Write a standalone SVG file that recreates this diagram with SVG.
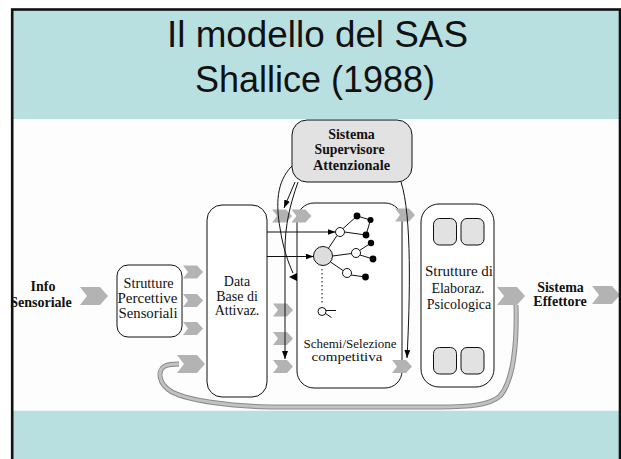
<svg xmlns="http://www.w3.org/2000/svg" width="621" height="459" viewBox="0 0 621 459">
<style>
.box{fill:#FFFFFF;stroke:#111;stroke-width:1}
.gbox{fill:#E2E2E2;stroke:#111;stroke-width:1}
.t{font-family:"Liberation Serif","Times New Roman",serif;font-size:14px;fill:#111;text-anchor:middle}
.s{font-size:13px}
.b{font-weight:bold}
.title{font-family:"Liberation Sans",Arial,sans-serif;font-size:36px;fill:#111;text-anchor:middle}
.chev{fill:#B3B3B3}
.ln{fill:none;stroke:#111;stroke-width:1}
.edge{stroke:#111;stroke-width:1;fill:none}
.oc{fill:#FFFFFF;stroke:#111;stroke-width:1}
.dot{fill:#000}
</style>
<defs>
<path id="cs" d="M0,0 H14 L20,6.5 L14,13 H0 L5,6.5 Z"/>
<path id="cb" d="M0,0 H20 L28,9 L20,18 H0 L7,9 Z"/>
<marker id="ah" markerWidth="8" markerHeight="6" refX="8" refY="3" orient="auto" markerUnits="userSpaceOnUse">
<path d="M0,0 L8,3 L0,6 Z" fill="#000"/>
</marker>
</defs>

<rect x="0" y="0" width="621" height="459" fill="#FFFFFF"/>
<rect x="12" y="9" width="608" height="110" fill="#B9E0E1"/>
<rect x="12" y="410.5" width="608" height="49" fill="#B9E0E1"/>
<rect x="12" y="119" width="608" height="291.5" fill="#FDFDFD"/>

<g id="title">
<text class="title" x="317.5" y="47" textLength="301" lengthAdjust="spacingAndGlyphs">Il modello del SAS</text>
<text class="title" x="315" y="92">Shallice (1988)</text>
</g>

<g id="info-sensoriale">
<text class="t b" x="43" y="290.5">Info</text>
<text class="t b" x="41" y="306.5">Sensoriale</text>
</g>

<g id="strutture-percettive">
<rect class="box" x="117" y="265" width="65" height="72" rx="11"/>
<text class="t" x="148.5" y="288" textLength="50" lengthAdjust="spacingAndGlyphs">Strutture</text>
<text class="t" x="147.5" y="303" textLength="60" lengthAdjust="spacingAndGlyphs">Percettive</text>
<text class="t" x="148" y="317.5" textLength="59" lengthAdjust="spacingAndGlyphs">Sensoriali</text>
</g>

<g id="database">
<rect class="box" x="207" y="205" width="60" height="192" rx="15"/>
<text class="t" x="237" y="286">Data</text>
<text class="t" x="237" y="300.5">Base di</text>
<text class="t" x="237" y="315">Attivaz.</text>
</g>

<g id="sas">
<rect class="gbox" x="292" y="120" width="120" height="62" rx="15"/>
<text class="t b" x="351.5" y="138.5">Sistema</text>
<text class="t b" x="349.5" y="154" textLength="70" lengthAdjust="spacingAndGlyphs">Supervisore</text>
<text class="t b" x="351.5" y="170" textLength="77" lengthAdjust="spacingAndGlyphs">Attenzionale</text>
</g>

<g id="schemi">
<rect class="box" x="297" y="203" width="105" height="185" rx="17"/>
<g id="network">
<line class="edge" x1="328" y1="249" x2="337" y2="235.5"/>
<line class="edge" x1="332.5" y1="256" x2="351.5" y2="253.5"/>
<line class="edge" x1="330.5" y1="262" x2="343" y2="270.5"/>
<line class="edge" x1="343" y1="228.5" x2="357" y2="216"/>
<line class="edge" x1="357" y1="216" x2="370.5" y2="220"/>
<line class="edge" x1="370.5" y1="220" x2="366" y2="235"/>
<line class="edge" x1="344.5" y1="232" x2="366" y2="235"/>
<line class="edge" x1="359.5" y1="250.5" x2="371" y2="243"/>
<line class="edge" x1="360" y1="255" x2="373" y2="259"/>
<line class="edge" x1="351" y1="275" x2="365.5" y2="277"/>
<circle cx="323" cy="256" r="9.5" fill="#DDDDDD" stroke="#111" stroke-width="1"/>
<circle class="oc" cx="340" cy="232" r="4.5"/>
<circle class="oc" cx="356" cy="253" r="4.5"/>
<circle class="oc" cx="347" cy="273" r="4.5"/>
<circle class="dot" cx="357" cy="216" r="3.4"/>
<circle class="dot" cx="370.5" cy="220" r="3"/>
<circle class="dot" cx="366" cy="235" r="3.4"/>
<circle class="dot" cx="371" cy="243" r="3.2"/>
<circle class="dot" cx="373" cy="259" r="3.4"/>
<circle class="dot" cx="365.5" cy="277" r="3.4"/>
<line x1="322" y1="269" x2="322" y2="305" stroke="#111" stroke-width="1" stroke-dasharray="1.5,2.5"/>
<circle class="oc" cx="322" cy="311.5" r="4"/>
<line class="edge" x1="326" y1="310.5" x2="336" y2="310.5"/>
<line class="edge" x1="325.5" y1="313.5" x2="331.5" y2="317.5"/>
</g>
<text class="t s" x="350" y="347.5" textLength="93" lengthAdjust="spacingAndGlyphs">Schemi/Selezione</text>
<text class="t s" x="347" y="361" textLength="71" lengthAdjust="spacingAndGlyphs">competitiva</text>
</g>

<g id="strutture-elaboraz">
<rect class="box" x="421" y="204" width="73" height="183" rx="18"/>
<rect class="gbox" x="433.5" y="218.5" width="23" height="26.5" rx="6"/>
<rect class="gbox" x="461" y="218.5" width="23" height="26.5" rx="6"/>
<rect class="gbox" x="433.5" y="347.5" width="23" height="26.5" rx="6"/>
<rect class="gbox" x="461" y="347.5" width="23" height="26.5" rx="6"/>
<text class="t" x="459" y="275.5" textLength="68" lengthAdjust="spacingAndGlyphs">Strutture di</text>
<text class="t" x="458" y="293">Elaboraz.</text>
<text class="t" x="459" y="308.5">Psicologica</text>
</g>

<g id="sistema-effettore">
<text class="t b" x="560.5" y="291.5">Sistema</text>
<text class="t b" x="560" y="306">Effettore</text>
</g>

<g id="connectors">
<path d="M 516,305 C 517,340 514,380 500,396 C 490,405 470,407 440,407 L 270,407 C 230,406 190,401 172,392 C 158,384 157,370 165,366 C 169,364 173,364 179,364" fill="none" stroke="#8A8A8A" stroke-width="5"/>
<path d="M 516,305 C 517,340 514,380 500,396 C 490,405 470,407 440,407 L 270,407 C 230,406 190,401 172,392 C 158,384 157,370 165,366 C 169,364 173,364 179,364" fill="none" stroke="#C2C2C2" stroke-width="3"/>
<use href="#cb" class="chev" x="80" y="287"/>
<use href="#cb" class="chev" x="177" y="355"/>
<use href="#cb" class="chev" x="497" y="287"/>
<use href="#cb" class="chev" x="592" y="286"/>
<use href="#cs" class="chev" x="183" y="265.5"/>
<use href="#cs" class="chev" x="183" y="294"/>
<use href="#cs" class="chev" x="183" y="322"/>
<use href="#cs" class="chev" x="272" y="209.5"/>
<use href="#cs" class="chev" x="291.5" y="209.5"/>
<use href="#cs" class="chev" x="273" y="303.5"/>
<use href="#cs" class="chev" x="273" y="332"/>
<use href="#cs" class="chev" x="273" y="360"/>
<use href="#cs" class="chev" x="395" y="208.5"/>
<use href="#cs" class="chev" x="392" y="360"/>
<line class="ln" x1="267" y1="232" x2="335.5" y2="232" marker-end="url(#ah)"/>
<line class="ln" x1="267" y1="256.5" x2="313.5" y2="256.5" marker-end="url(#ah)"/>
<path class="ln" d="M 295,182 L 284,208" marker-end="url(#ah)"/>
<path class="ln" d="M 292,166 C 276,182 276,205 280,228 C 283,248 288,262 293,273"/>
<polygon points="289,277 297,273 297,281" fill="#000"/>
<path class="ln" d="M 298,182 C 290,205 285,225 285,250 L 285,359" marker-end="url(#ah)"/>
<path class="ln" d="M 401,182 C 412,215 410,300 407,358" marker-end="url(#ah)"/>
</g>

<rect x="12.2" y="9.5" width="607.8" height="460" fill="none" stroke="#111" stroke-width="2.6"/>
</svg>
